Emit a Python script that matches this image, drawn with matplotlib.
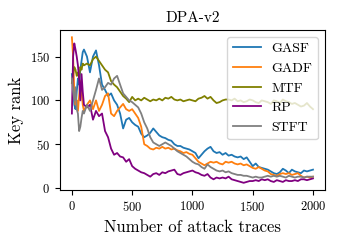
import matplotlib
matplotlib.use("Agg")
import matplotlib.pyplot as plt
import numpy as np

# number of attack traces: dense at the start, then every 25
traces = list(range(0, 101, 10)) + list(range(125, 2001, 25))

gasf = [130, 115, 95, 90, 110, 125, 118, 135, 145, 155, 158,
        150, 132, 150, 157, 140, 118, 112, 105, 108, 100,
        95, 85, 68, 78, 80, 75, 72, 70, 62, 58,
        60, 63, 68, 64, 60, 58, 57, 55, 54, 50,
        48, 48, 46, 45, 44, 42, 40, 34, 38, 42,
        45, 47, 42, 40, 41, 38, 40, 37, 38, 36,
        35, 36, 33, 35, 30, 25, 28, 24, 23, 22,
        21, 19, 17, 16, 18, 22, 20, 17, 21, 19,
        18, 17, 20, 19, 20, 21]
gadf = [172, 150, 110, 95, 100, 88, 105, 122, 110, 95, 88,
        95, 100, 90, 100, 88, 95, 105, 108, 85, 82,
        88, 92, 96, 90, 88, 90, 85, 80, 70, 50,
        48, 45, 44, 46, 45, 47, 45, 46, 44, 45,
        43, 42, 40, 41, 39, 38, 34, 30, 28, 26,
        28, 30, 29, 30, 28, 27, 30, 29, 30, 28,
        27, 28, 26, 27, 25, 23, 22, 24, 22, 20,
        19, 16, 15, 14, 16, 17, 16, 17, 15, 16,
        17, 14, 12, 13, 12, 13]
mtf = [120, 130, 138, 135, 128, 132, 125, 138, 135, 142, 140,
       142, 140, 147, 150, 145, 140, 135, 132, 122, 118,
       115, 110, 105, 102, 98, 104, 100, 102, 100, 103,
       101, 99, 101, 100, 102, 100, 103, 102, 104, 101,
       100, 101, 99, 100, 101, 100, 99, 102, 103, 105,
       102, 104, 100, 97, 98, 100, 101, 101, 100, 102,
       99, 100, 98, 99, 101, 100, 98, 97, 100, 99,
       98, 96, 100, 99, 97, 101, 99, 98, 96, 97,
       95, 93, 94, 97, 93, 90]
rp = [85, 150, 165, 158, 150, 140, 125, 100, 130, 110, 95,
      92, 95, 78, 88, 82, 85, 65, 58, 45, 38,
      40, 36, 35, 30, 33, 25, 22, 20, 18, 17,
      15, 13, 16, 17, 15, 18, 17, 19, 20, 21,
      16, 15, 17, 18, 19, 20, 18, 17, 15, 14,
      16, 12, 10, 12, 11, 12, 11, 13, 10, 9,
      8, 7, 6, 7, 8, 8, 9, 8, 10, 9,
      10, 8, 7, 9, 8, 7, 9, 8, 8, 9,
      8, 10, 10, 9, 10, 11]
stft = [125, 110, 100, 115, 90, 85, 65, 70, 80, 88, 85,
        95, 88, 100, 112, 125, 112, 115, 120, 118, 125,
        128, 118, 108, 104, 100, 98, 95, 92, 85, 75,
        68, 58, 52, 50, 48, 50, 52, 50, 48, 45,
        42, 40, 38, 36, 33, 30, 28, 27, 24, 22,
        27, 24, 22, 20, 19, 20, 18, 19, 17, 16,
        15, 15, 14, 14, 13, 12, 13, 12, 12, 13,
        14, 13, 14, 13, 14, 13, 12, 14, 13, 12,
        13, 13, 12, 13, 13, 13]

names = ['GASF', 'GADF', 'MTF', 'RP', 'STFT']
series = [gasf, gadf, mtf, rp, stft]
colors = ['tab:blue', 'tab:orange', 'olive', 'purple', 'gray']

plt.rcParams['font.family'] = 'serif'
plt.rcParams['font.serif'] = ['cmr10']
plt.rcParams['mathtext.fontset'] = 'cm'
plt.rcParams['axes.formatter.use_mathtext'] = True
plt.rcParams['font.size'] = 9

fig, ax = plt.subplots(figsize=(3.4, 2.4), dpi=100)
fig.subplots_adjust(left=0.176, right=0.956, bottom=0.208, top=0.875)

for name, vals, c in zip(names, series, colors):
    ax.plot(traces, vals, color=c, linewidth=1.3, label=name)

ax.set_title('DPA-v2', fontsize=11)
ax.set_xlabel('Number of attack traces', fontsize=12)
ax.set_ylabel('Key rank', fontsize=12)
ax.set_xticks([0, 500, 1000, 1500, 2000])
ax.set_yticks([0, 50, 100, 150])
ax.legend(loc='upper right', fontsize=10)

fig.savefig('out.png', dpi=100)
